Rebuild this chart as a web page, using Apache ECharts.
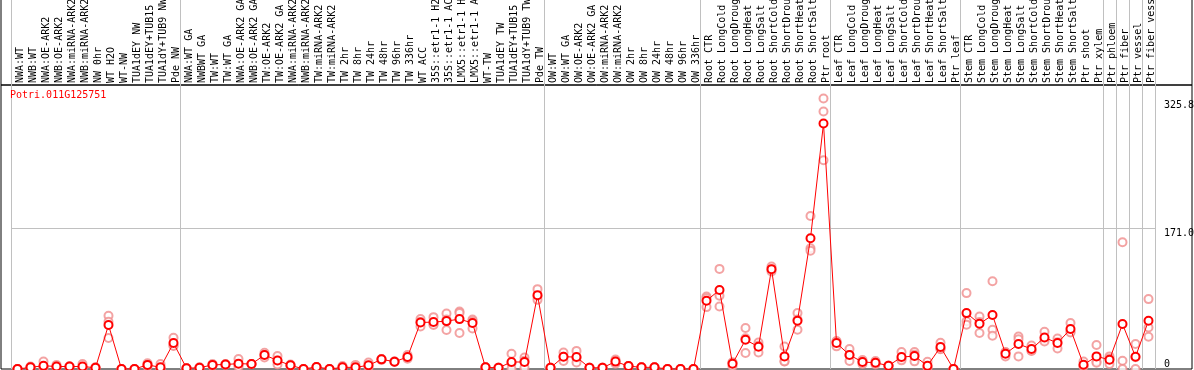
<!DOCTYPE html>
<html><head><meta charset="utf-8">
<script src="https://cdn.jsdelivr.net/npm/echarts@6/dist/echarts.min.js"></script>
<style>html,body{margin:0;padding:0;background:#fff}#c{width:1194px;height:370px}</style>
</head><body><div id="c"></div>
<script>
const geneName = 'Potri.011G125751';
const categories = [
  'NWA:WT','NWB:WT','NWA:OE-ARK2','NWB:OE-ARK2','NWA:miRNA-ARK2','NWB:miRNA-ARK2','NW 0hr','WT H2O','WT-NW','TUA1dEY NW','TUA1dEY+TUB15 NW','TUA1dY+TUB9 NW','Pde NW',
  'NWA:WT GA','NWBWT GA','TW:WT','TW:WT GA','NWA:OE-ARK2 GA','NWB:OE-ARK2 GA','TW:OE-ARK2','TW:OE-ARK2 GA','NWA:miRNA-ARK2','NWB:miRNA-ARK2','TW:miRNA-ARK2','TW:miRNA-ARK2',
  'TW 2hr','TW 8hr','TW 24hr','TW 48hr','TW 96hr','TW 336hr','WT ACC','35S::etr1-1 H2O','35S::etr1-1 ACC','LMX5::etr1-1 H2O','LMX5::etr1-1 ACC','WT-TW','TUA1dEY TW','TUA1dEY+TUB15 TW','TUA1dY+TUB9 TW','Pde TW',
  'OW:WT','OW:WT GA','OW:OE-ARK2','OW:OE-ARK2 GA','OW:miRNA-ARK2','OW:miRNA-ARK2','OW 2hr','OW 8hr','OW 24hr','OW 48hr','OW 96hr','OW 336hr',
  'Root CTR','Root LongCold','Root LongDrought','Root LongHeat','Root LongSalt','Root ShortCold','Root ShortDrought','Root ShortHeat','Root ShortSalt','Ptr root',
  'Leaf CTR','Leaf LongCold','Leaf LongDrought','Leaf LongHeat','Leaf LongSalt','Leaf ShortCold','Leaf ShortDrought','Leaf ShortHeat','Leaf ShortSalt','Ptr leaf',
  'Stem CTR','Stem LongCold','Stem LongDrought','Stem LongHeat','Stem LongSalt','Stem ShortCold','Stem ShortDrought','Stem ShortHeat','Stem ShortSalt','Ptr shoot','Ptr xylem',
  'Ptr phloem','Ptr fiber','Ptr vessel','Ptr fiber vessel'
];
const meanValues = [
  0,2,4,3,3,3,1.5,53.4,0,0,5,2,31.5,
  1,1.5,5,5.5,6.5,6,17,10.4,4.5,0,2.5,0,2,2,4.5,11.7,8.9,14.5,56.5,57,58.2,60.6,55.8,2,1.5,8.5,8.5,89.7,
  1.5,14.9,14.5,1.5,1.5,9,3.5,2,2,0,0,0,
  83,96,6.4,35.5,27,121.3,15.3,58.6,158.9,298.3,
  31.5,17,8.5,7.6,4,14.5,15.7,4,26.7,0,
  67.9,54.9,65.5,18.6,30.3,24.3,38.3,31.5,48.5,5.2,15.3,
  11.3,54.6,14.9,58.6
];
const rep1 = [
  0,1,9,5,3,6,1,64.6,0,0,7,6,38,
  1,1,5,6,12,6,19.8,15.7,5.5,0,2.5,0,3.5,5,8,12,9,17,60.6,63,67.5,69.9,60,2,1.5,18.6,14,97,
  1.5,20,22,1.5,1.5,11.5,3.5,2,2,0,0,0,
  88,121.6,8,49.7,32.3,124.4,27.4,67.9,185.9,328.6,
  33,24.3,11,9.8,4,20.6,20.6,8.9,31.9,0,
  92.2,63.8,106.7,20.6,39.5,28.6,45.2,37.1,55.8,9.2,29.1,
  15.3,154,30.3,84.9
];
const rep2 = [
  0,2,2,2,3,2,2,57.4,0,0,5,0,28.6,
  1,2,6,5,5,6,17,10,4.5,0,2.5,0,2,1,4,12,9,12.5,57.2,54.6,60,68,58,2,1.5,7,10,88,
  1.5,14.9,13.5,1.5,1.5,9,3.5,2,2,0,0,0,
  85.8,88.9,8,37.4,28.6,121,9.2,60.2,146.7,312.9,
  34,17,8.5,7.6,4,12.4,17.2,2,24,0,
  57.9,57.2,47.7,19.9,36.1,22.5,36.2,32.4,45.3,3.2,9.2,
  12.6,10,14.4,50.5
];
const rep3 = [
  0,3,1,2,3,1,1.5,37.6,0,0,3,0,28,
  1,1.5,4,5.5,2.5,6,14,5.5,3.5,0,2.5,0,0.5,0,1.5,11,8.7,14,51.7,53.4,47.3,43.7,49.3,2,1.5,0,1.5,84,
  1.5,9.8,8,1.5,1.5,6.5,3.5,2,2,0,0,0,
  75.2,75.9,3,19.4,20.1,118.5,9.3,47.7,143.8,253.5,
  27.5,9.7,6,5.4,4,10.5,9.3,1.2,24.2,0,
  53.7,43.7,40.4,15.3,15.3,21.8,33.5,25,44.4,3.2,7.6,
  6,0,0,39.2
];
const groupStarts = [0,13,41,53,63,73,84,85,86,87];
const yLabelValues = [171.0, 325.8];
const yGridValues = [171.0];
const yZeroValues = [0];
const yMax = 345;

const FONT = 'DejaVu Sans Mono';
const isGroupStart = (i) => groupStarts.indexOf(i) >= 0;
const repSeries = [rep1, rep2, rep3].map((r) => ({
  type: 'scatter', xAxisIndex: 1, yAxisIndex: 1, z: 2,
  symbol: 'emptyCircle', symbolSize: 8,
  itemStyle: {color: '#f08c8c', borderColor: '#f08c8c', borderWidth: 1.3},
  data: r.map((v, i) => [i, v]), silent: true
}));

const chart = echarts.init(document.getElementById('c'), null, {renderer: 'canvas'});
chart.setOption({
  animation: false,
  backgroundColor: '#fff',
  title: {text: geneName, left: 10, top: 90, padding: 0,
    textStyle: {color: '#ff0000', fontSize: 10, fontFamily: FONT, fontWeight: 'normal'}},
  grid: [
    {left: 11, width: 1144, top: 0, height: 85, outerBoundsMode: 'none', containLabel: false},
    {left: 11, width: 1144, top: 85, bottom: 1, outerBoundsMode: 'none', containLabel: false},
    {left: 1, right: 2, top: 85, bottom: 1, show: true, borderColor: '#000', borderWidth: 1, backgroundColor: 'transparent', outerBoundsMode: 'none'},
    {left: 1, right: 2, top: -2, height: 87, show: true, borderColor: '#000', borderWidth: 1, backgroundColor: 'transparent', outerBoundsMode: 'none'}
  ],
  xAxis: [
    {type: 'category', gridIndex: 0, data: categories, axisLine: {show: false}, axisTick: {show: false}, axisLabel: {show: false},
      splitLine: {show: true, interval: isGroupStart, lineStyle: {color: '#c0c0c0', width: 1}}},
    {type: 'category', gridIndex: 1, data: categories, position: 'top', axisLine: {show: false}, axisTick: {show: false},
      axisLabel: {interval: 0, rotate: 90, margin: 2, fontSize: 10, fontFamily: FONT, color: '#000', hideOverlap: false,
        verticalAlign: 'top', lineHeight: 6},
      splitLine: {show: true, interval: isGroupStart, lineStyle: {color: '#c0c0c0', width: 1}}},
    {type: 'value', gridIndex: 2, show: false},
    {type: 'value', gridIndex: 3, show: false}
  ],
  yAxis: [
    {type: 'value', gridIndex: 0, show: false},
    {type: 'value', gridIndex: 1, min: 0, max: yMax, position: 'right',
      axisLine: {show: false}, axisTick: {show: false, customValues: yGridValues},
      axisLabel: {customValues: yLabelValues, formatter: (v) => v.toFixed(1), verticalAlign: 'top', align: 'left', margin: 9,
        fontSize: 10, fontFamily: FONT, color: '#000'},
      splitLine: {show: true, lineStyle: {color: '#c0c0c0', width: 1}}},
    {type: 'value', gridIndex: 1, min: 0, max: yMax, position: 'right',
      axisLine: {show: false}, axisTick: {show: false, customValues: yZeroValues},
      axisLabel: {customValues: yZeroValues, formatter: (v) => String(v), verticalAlign: 'bottom', align: 'left', margin: 9,
        fontSize: 10, fontFamily: FONT, color: '#000'},
      splitLine: {show: false}},
    {type: 'value', gridIndex: 2, show: false},
    {type: 'value', gridIndex: 3, show: false}
  ],
  series: repSeries.concat([{
    type: 'line', xAxisIndex: 1, yAxisIndex: 1, z: 3, data: meanValues,
    symbol: 'emptyCircle', symbolSize: 8, showAllSymbol: true,
    lineStyle: {color: '#ff0000', width: 1},
    itemStyle: {color: '#ff0000', borderColor: '#ff0000', borderWidth: 1.5}, silent: true
  }])
});
</script></body></html>
